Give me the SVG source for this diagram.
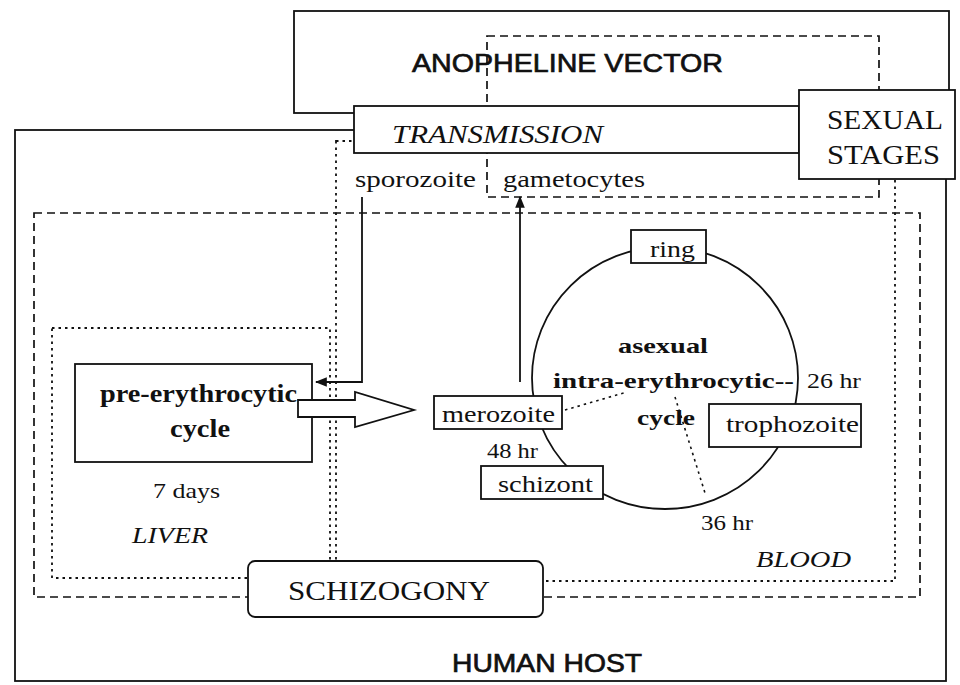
<svg xmlns="http://www.w3.org/2000/svg" width="960" height="685" viewBox="0 0 960 685">
<defs>
<style>
.box{fill:#fff;stroke:#111;stroke-width:1.8}
.frame{fill:none;stroke:#111;stroke-width:1.8}
.dash{fill:none;stroke:#111;stroke-width:1.7;stroke-dasharray:8 5}
.dot{fill:none;stroke:#111;stroke-width:1.8;stroke-dasharray:2.5 4}
.ln{fill:none;stroke:#111;stroke-width:1.8}
.dl{fill:none;stroke:#111;stroke-width:1.6;stroke-dasharray:2.5 4}
.sans{font-family:"Liberation Sans",Arial,sans-serif;fill:#111;stroke:#111;stroke-width:0.7}
.serif{font-family:"Liberation Serif","Times New Roman",serif;fill:#111}
.it{font-style:italic}
.b{font-weight:bold}
</style>
<marker id="ah2" viewBox="0 0 10 10" refX="9" refY="5" markerWidth="12" markerHeight="12" orient="auto" markerUnits="userSpaceOnUse">
<path d="M0,1 L10,5 L0,9 z" fill="#111"/>
</marker>
</defs>
<rect width="960" height="685" fill="#fff"/>

<g id="human-host">
<rect class="frame" x="15" y="130" width="931" height="551"/>
<text class="sans" x="452" y="672" font-size="26.5" textLength="190" lengthAdjust="spacingAndGlyphs">HUMAN HOST</text>
</g>

<g id="anopheline-vector">
<rect class="frame" x="294" y="11" width="655" height="102"/>
<text class="sans" x="412" y="72" font-size="26.5" textLength="311" lengthAdjust="spacingAndGlyphs">ANOPHELINE VECTOR</text>
</g>

<g id="regions">
<rect id="sexual-region" class="dash" x="487" y="36" width="392" height="161"/>
<rect id="schizogony-region" class="dash" x="34" y="213" width="886" height="384"/>
<rect id="blood-region" class="dot" x="336" y="141" width="559" height="440"/>
<rect id="liver-region" class="dot" x="52" y="328" width="278" height="250"/>
</g>

<g id="transmission">
<rect class="box" x="354" y="106" width="445" height="47"/>
<text class="serif it" x="392" y="143" font-size="26" textLength="211" lengthAdjust="spacingAndGlyphs">TRANSMISSION</text>
</g>

<g id="sexual-stages">
<rect class="box" x="799" y="90" width="156" height="89"/>
<text class="serif" x="827" y="129" font-size="28" textLength="116" lengthAdjust="spacingAndGlyphs">SEXUAL</text>
<text class="serif" x="827" y="164" font-size="28" textLength="113" lengthAdjust="spacingAndGlyphs">STAGES</text>
</g>

<g id="labels">
<text class="serif" x="355" y="187" font-size="24" textLength="121" lengthAdjust="spacingAndGlyphs">sporozoite</text>
<text class="serif" x="503" y="187" font-size="24" textLength="142" lengthAdjust="spacingAndGlyphs">gametocytes</text>
<text class="serif" x="153" y="498" font-size="21" textLength="67" lengthAdjust="spacingAndGlyphs">7 days</text>
<text class="serif it" x="132" y="543" font-size="23" textLength="76" lengthAdjust="spacingAndGlyphs">LIVER</text>
<text class="serif it" x="756" y="567" font-size="24" textLength="95" lengthAdjust="spacingAndGlyphs">BLOOD</text>
<text class="serif" x="807" y="388" font-size="21" textLength="54" lengthAdjust="spacingAndGlyphs">26 hr</text>
<text class="serif" x="487" y="458" font-size="21" textLength="51" lengthAdjust="spacingAndGlyphs">48 hr</text>
<text class="serif" x="701" y="530" font-size="21" textLength="52" lengthAdjust="spacingAndGlyphs">36 hr</text>
</g>

<g id="connectors">
<polyline class="ln" points="362,197 362,382 316,382" marker-end="url(#ah2)"/>
<line class="ln" x1="520" y1="382" x2="520" y2="197" marker-end="url(#ah2)"/>
<line class="dl" x1="565" y1="410" x2="627" y2="392"/>
<line class="dl" x1="675" y1="397" x2="705" y2="493"/>
</g>

<g id="cycle-circle">
<ellipse class="frame" cx="665" cy="378" rx="133" ry="131"/>
<text class="serif b" x="618" y="353" font-size="22" textLength="90" lengthAdjust="spacingAndGlyphs">asexual</text>
<text class="serif b" x="553" y="388" font-size="22" textLength="241" lengthAdjust="spacingAndGlyphs">intra-erythrocytic--</text>
<text class="serif b" x="637" y="425" font-size="22" textLength="58" lengthAdjust="spacingAndGlyphs">cycle</text>
</g>

<g id="pre-erythrocytic">
<rect class="box" x="75" y="364" width="237" height="98"/>
<text class="serif b" x="100" y="402" font-size="25" textLength="197" lengthAdjust="spacingAndGlyphs">pre-erythrocytic</text>
<text class="serif b" x="170" y="437" font-size="25" textLength="60" lengthAdjust="spacingAndGlyphs">cycle</text>
</g>

<g id="block-arrow">
<polygon class="box" points="298,400 355,400 355,392 414,410 355,427 355,417 298,417"/>
</g>

<g id="merozoite">
<rect class="box" x="434" y="396" width="128" height="33"/>
<text class="serif" x="442" y="422" font-size="23" textLength="113" lengthAdjust="spacingAndGlyphs">merozoite</text>
</g>

<g id="ring">
<rect class="box" x="631" y="230" width="75" height="33"/>
<text class="serif" x="650" y="257" font-size="23" textLength="45" lengthAdjust="spacingAndGlyphs">ring</text>
</g>

<g id="trophozoite">
<rect class="box" x="709" y="404" width="152" height="43"/>
<text class="serif" x="726" y="432" font-size="23" textLength="133" lengthAdjust="spacingAndGlyphs">trophozoite</text>
</g>

<g id="schizont">
<rect class="box" x="481" y="466" width="122" height="33"/>
<text class="serif" x="498" y="492" font-size="23" textLength="95" lengthAdjust="spacingAndGlyphs">schizont</text>
</g>

<g id="schizogony">
<rect class="box" x="248" y="561" width="295" height="56" rx="7"/>
<text class="serif" x="288" y="600" font-size="27" textLength="202" lengthAdjust="spacingAndGlyphs">SCHIZOGONY</text>
</g>
</svg>
